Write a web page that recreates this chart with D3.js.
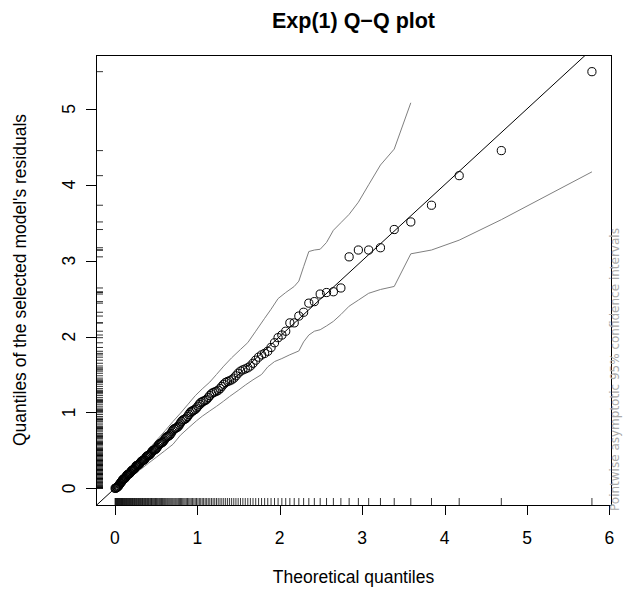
<!DOCTYPE html>
<html>
<head>
<meta charset="utf-8">
<script src="https://cdn.jsdelivr.net/npm/d3@7"></script>
<style>
  html, body { margin: 0; padding: 0; background: #fff; }
  svg { display: block; font-family: "Liberation Sans", Arial, Helvetica, sans-serif; }
</style>
</head>
<body>
<script>
const theoretical = [
  0.003, 0.009, 0.015, 0.022, 0.028, 0.034, 0.041, 0.047, 0.054, 0.060,
  0.067, 0.073, 0.080, 0.086, 0.093, 0.100, 0.107, 0.114, 0.120, 0.127,
  0.134, 0.141, 0.149, 0.156, 0.163, 0.170, 0.177, 0.185, 0.192, 0.200,
  0.207, 0.215, 0.222, 0.230, 0.238, 0.246, 0.254, 0.261, 0.269, 0.278,
  0.286, 0.294, 0.302, 0.310, 0.319, 0.327, 0.336, 0.344, 0.353, 0.362,
  0.371, 0.380, 0.389, 0.398, 0.407, 0.416, 0.426, 0.435, 0.445, 0.454,
  0.464, 0.474, 0.484, 0.494, 0.504, 0.514, 0.524, 0.535, 0.545, 0.556,
  0.567, 0.577, 0.588, 0.600, 0.611, 0.622, 0.634, 0.645, 0.657, 0.669,
  0.681, 0.693, 0.705, 0.718, 0.731, 0.743, 0.756, 0.770, 0.783, 0.796,
  0.810, 0.824, 0.838, 0.852, 0.867, 0.882, 0.897, 0.912, 0.927, 0.943,
  0.959, 0.975, 0.991, 1.008, 1.025, 1.042, 1.060, 1.077, 1.096, 1.114,
  1.133, 1.152, 1.172, 1.192, 1.212, 1.233, 1.254, 1.276, 1.298, 1.321,
  1.344, 1.368, 1.392, 1.417, 1.443, 1.469, 1.496, 1.524, 1.553, 1.582,
  1.613, 1.644, 1.676, 1.709, 1.744, 1.780, 1.817, 1.855, 1.895, 1.937,
  1.980, 2.026, 2.073, 2.123, 2.176, 2.232, 2.290, 2.353, 2.420, 2.491,
  2.568, 2.651, 2.742, 2.842, 2.954, 3.079, 3.222, 3.389, 3.590, 3.841,
  4.177, 4.688, 5.787
];

// sorted residuals of the selected model
const residuals = [
  0.000, 0.002, 0.006, 0.010, 0.015, 0.021, 0.028, 0.036, 0.047, 0.058,
  0.068, 0.076, 0.085, 0.094, 0.108, 0.118, 0.124, 0.128, 0.131, 0.139,
  0.150, 0.164, 0.176, 0.182, 0.186, 0.189, 0.194, 0.202, 0.214, 0.227,
  0.236, 0.241, 0.246, 0.250, 0.258, 0.271, 0.285, 0.297, 0.302, 0.306,
  0.310, 0.316, 0.325, 0.338, 0.351, 0.360, 0.365, 0.369, 0.374, 0.383,
  0.397, 0.412, 0.423, 0.429, 0.433, 0.437, 0.445, 0.458, 0.474, 0.489,
  0.499, 0.504, 0.508, 0.514, 0.525, 0.541, 0.560, 0.577, 0.588, 0.594,
  0.599, 0.606, 0.618, 0.636, 0.655, 0.671, 0.680, 0.686, 0.693, 0.705,
  0.723, 0.745, 0.766, 0.781, 0.789, 0.795, 0.803, 0.816, 0.836, 0.860,
  0.882, 0.898, 0.906, 0.913, 0.925, 0.946, 0.972, 0.996, 1.013, 1.022,
  1.030, 1.041, 1.058, 1.082, 1.108, 1.129, 1.142, 1.150, 1.158, 1.172,
  1.195, 1.222, 1.246, 1.261, 1.270, 1.279, 1.292, 1.314, 1.343, 1.372,
  1.395, 1.408, 1.417, 1.430, 1.452, 1.483, 1.516, 1.544, 1.561, 1.573,
  1.588, 1.612, 1.648, 1.689, 1.728, 1.758, 1.778, 1.806, 1.856, 1.918,
  1.985, 2.020, 2.070, 2.180, 2.180, 2.270, 2.320, 2.440, 2.460, 2.560,
  2.580, 2.590, 2.640, 3.050, 3.140, 3.140, 3.170, 3.410, 3.510, 3.730,
  4.120, 4.450, 5.490
];

// pointwise 95% bands (upper stops where it becomes unbounded)
const upperX = [0.003, 0.100, 0.200, 0.302, 0.407, 0.504, 0.611, 0.705, 0.796, 0.882,
  0.975, 1.060, 1.152, 1.233, 1.321, 1.417, 1.524, 1.613, 1.709, 1.817, 1.895, 1.980,
  2.073, 2.176, 2.232, 2.290, 2.353, 2.420, 2.491, 2.568, 2.651, 2.742, 2.842, 2.954,
  3.079, 3.222, 3.389, 3.590];
const upperY = [0.010, 0.140, 0.270, 0.390, 0.510, 0.630, 0.760, 0.880, 0.990, 1.100,
  1.220, 1.310, 1.400, 1.500, 1.610, 1.720, 1.830, 1.920, 2.070, 2.240, 2.360, 2.500,
  2.580, 2.660, 2.730, 2.920, 3.120, 3.140, 3.150, 3.240, 3.400, 3.500, 3.610, 3.770,
  4.000, 4.260, 4.470, 5.080];
const lowerX = [0.003, 0.100, 0.200, 0.302, 0.407, 0.504, 0.600, 0.705, 0.796, 0.897,
  0.991, 1.060, 1.152, 1.233, 1.321, 1.392, 1.496, 1.582, 1.676, 1.780, 1.855, 1.937,
  2.026, 2.123, 2.232, 2.290, 2.353, 2.420, 2.491, 2.568, 2.651, 2.742, 2.842, 2.954,
  3.079, 3.222, 3.389, 3.590, 3.841, 4.177, 4.688, 5.787];
const lowerY = [0.000, 0.070, 0.150, 0.240, 0.330, 0.410, 0.490, 0.580, 0.700, 0.800,
  0.890, 0.950, 1.020, 1.080, 1.150, 1.210, 1.290, 1.360, 1.430, 1.500, 1.600, 1.670,
  1.710, 1.760, 1.810, 1.930, 2.020, 2.070, 2.090, 2.140, 2.200, 2.290, 2.400, 2.480,
  2.570, 2.620, 2.660, 3.090, 3.140, 3.270, 3.540, 4.170];

const xTicks = [0, 1, 2, 3, 4, 5, 6];
const yTicks = [0, 1, 2, 3, 4, 5];

const W = 626, H = 592;
const box = { left: 96, right: 611, top: 55, bottom: 505 };
const labelSize = 17.5;

// R style 4% padding around the data range
function padded(ext) {
  const r = ext[1] - ext[0];
  return [ext[0] - 0.04 * r, ext[1] + 0.04 * r];
}

const x = d3.scaleLinear().domain(padded(d3.extent(theoretical))).range([box.left, box.right]);
const y = d3.scaleLinear().domain(padded(d3.extent(residuals))).range([box.bottom, box.top]);

const svg = d3.select('body').append('svg')
  .attr('width', W)
  .attr('height', H);

svg.append('clipPath').attr('id', 'plotclip')
  .append('rect')
  .attr('x', box.left).attr('y', box.top)
  .attr('width', box.right - box.left).attr('height', box.bottom - box.top);

const plot = svg.append('g').attr('clip-path', 'url(#plotclip)');

// rugs
plot.append('g').selectAll('line')
  .data(theoretical)
  .enter().append('line')
    .attr('x1', d => x(d)).attr('x2', d => x(d))
    .attr('y1', box.bottom).attr('y2', box.bottom - 7)
    .attr('stroke', '#000').attr('stroke-width', 0.8);

plot.append('g').selectAll('line')
  .data(residuals)
  .enter().append('line')
    .attr('y1', d => y(d)).attr('y2', d => y(d))
    .attr('x1', box.left).attr('x2', box.left + 7)
    .attr('stroke', '#000').attr('stroke-width', 0.8);

// reference line y = x
const dom = x.domain();
plot.append('line')
  .attr('x1', x(dom[0])).attr('y1', y(dom[0]))
  .attr('x2', x(dom[1])).attr('y2', y(dom[1]))
  .attr('stroke', '#000').attr('stroke-width', 1);

// confidence bands
const line = d3.line().x(d => x(d[0])).y(d => y(d[1]));
plot.append('path')
  .datum(d3.zip(upperX, upperY))
  .attr('d', line)
  .attr('fill', 'none').attr('stroke', '#7f7f7f').attr('stroke-width', 1);
plot.append('path')
  .datum(d3.zip(lowerX, lowerY))
  .attr('d', line)
  .attr('fill', 'none').attr('stroke', '#7f7f7f').attr('stroke-width', 1);

// points
plot.append('g').selectAll('circle')
  .data(d3.zip(theoretical, residuals))
  .enter().append('circle')
    .attr('cx', d => x(d[0]))
    .attr('cy', d => y(d[1]))
    .attr('r', 4.1)
    .attr('fill', 'none')
    .attr('stroke', '#000')
    .attr('stroke-width', 1);

// frame
svg.append('rect')
  .attr('x', box.left + 0.5).attr('y', box.top + 0.5)
  .attr('width', box.right - box.left).attr('height', box.bottom - box.top)
  .attr('fill', 'none').attr('stroke', '#000').attr('stroke-width', 1);

// x axis
const xAxis = svg.append('g');
xAxis.selectAll('line')
  .data(xTicks)
  .enter().append('line')
    .attr('x1', d => Math.round(x(d)) + 0.5).attr('x2', d => Math.round(x(d)) + 0.5)
    .attr('y1', box.bottom).attr('y2', box.bottom + 10)
    .attr('stroke', '#000');
xAxis.selectAll('text')
  .data(xTicks)
  .enter().append('text')
    .attr('x', d => x(d)).attr('y', 544)
    .attr('text-anchor', 'middle')
    .attr('font-size', labelSize)
    .text(d => d);

// y axis (labels parallel to the axis, as in R)
const yAxis = svg.append('g');
yAxis.selectAll('line')
  .data(yTicks)
  .enter().append('line')
    .attr('y1', d => Math.round(y(d)) + 0.5).attr('y2', d => Math.round(y(d)) + 0.5)
    .attr('x1', box.left - 10).attr('x2', box.left)
    .attr('stroke', '#000');
yAxis.selectAll('text')
  .data(yTicks)
  .enter().append('text')
    .attr('transform', d => `translate(74.5, ${y(d)}) rotate(-90)`)
    .attr('text-anchor', 'middle')
    .attr('font-size', labelSize)
    .text(d => d);

// titles
svg.append('text')
  .attr('x', (box.left + box.right) / 2).attr('y', 28)
  .attr('text-anchor', 'middle')
  .attr('font-size', 21.5)
  .attr('font-weight', 'bold')
  .text('Exp(1) Q\u2212Q plot');

svg.append('text')
  .attr('x', (box.left + box.right) / 2).attr('y', 583)
  .attr('text-anchor', 'middle')
  .attr('font-size', labelSize)
  .text('Theoretical quantiles');

svg.append('text')
  .attr('transform', `translate(26, ${(box.top + box.bottom) / 2}) rotate(-90)`)
  .attr('text-anchor', 'middle')
  .attr('font-size', labelSize)
  .text("Quantiles of the selected model's residuals");

svg.append('text')
  .attr('transform', `translate(619, ${box.bottom + 6}) rotate(-90)`)
  .attr('text-anchor', 'start')
  .attr('font-family', '"DejaVu Sans", sans-serif')
  .attr('font-size', 12)
  .attr('fill', '#aaaaaa')
  .text('Pointwise asymptotic 95% confidence intervals');
</script>
</body>
</html>
